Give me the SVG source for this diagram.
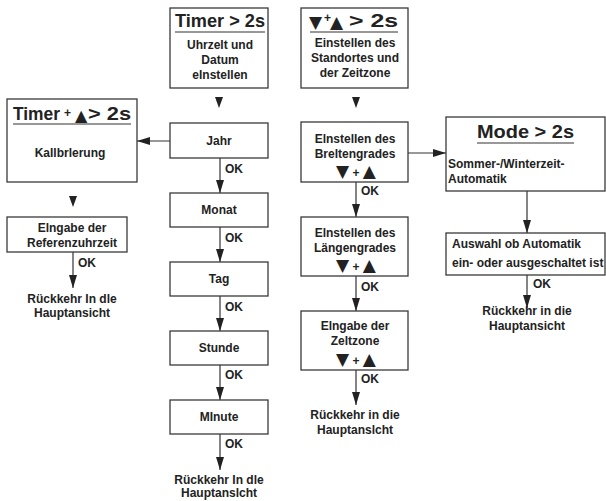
<svg xmlns="http://www.w3.org/2000/svg" width="606" height="501" viewBox="0 0 606 501">
<style>
  .box{fill:#fff;stroke:#3a3a3a;stroke-width:1.3}
  .t{font-family:"Liberation Sans",Arial,sans-serif;font-weight:bold;font-size:12px;fill:#222}
  .c{text-anchor:middle}
  .ttl{font-family:"Liberation Sans",Arial,sans-serif;font-weight:bold;font-size:19px;fill:#222}
  .sym{font-family:"DejaVu Sans",sans-serif;fill:#222}
  .ul{stroke:#333;stroke-width:1.2}
  .ln{stroke:#333;stroke-width:1.2;fill:none}
  .tri{fill:#222}
</style>
<defs>
  <marker id="ah" viewBox="0 0 13 8" refX="13" refY="4" markerWidth="13" markerHeight="8" orient="auto" markerUnits="userSpaceOnUse">
    <path d="M0,0 L13,4 L0,8 z" fill="#222"/>
  </marker>
</defs>

<g id="connectors">
  <path class="ln" d="M170,141 H137" marker-end="url(#ah)"/>
  <polygon class="tri" points="69,196 77,196 73,207"/>
  <path class="ln" d="M73,252 V288" marker-end="url(#ah)"/>
  <polygon class="tri" points="215,97 223,97 219,108"/>
  <path class="ln" d="M220,158 V193" marker-end="url(#ah)"/>
  <path class="ln" d="M220,227 V262" marker-end="url(#ah)"/>
  <path class="ln" d="M220,296 V331" marker-end="url(#ah)"/>
  <path class="ln" d="M220,365 V400" marker-end="url(#ah)"/>
  <path class="ln" d="M220,434 V470" marker-end="url(#ah)"/>
  <polygon class="tri" points="352,97 360,97 356,108"/>
  <path class="ln" d="M356,182 V217" marker-end="url(#ah)"/>
  <path class="ln" d="M356,276 V311" marker-end="url(#ah)"/>
  <path class="ln" d="M356,370 V405" marker-end="url(#ah)"/>
  <path class="ln" d="M408,153 H446" marker-end="url(#ah)"/>
  <path class="ln" d="M527,191 V233" marker-end="url(#ah)"/>
  <path class="ln" d="M527,275 V308" marker-end="url(#ah)"/>
  <text class="t" x="78" y="267">OK</text>
  <text class="t" x="225" y="173">OK</text>
  <text class="t" x="225" y="242">OK</text>
  <text class="t" x="225" y="311">OK</text>
  <text class="t" x="225" y="379">OK</text>
  <text class="t" x="225" y="448">OK</text>
  <text class="t" x="361" y="195">OK</text>
  <text class="t" x="361" y="291">OK</text>
  <text class="t" x="361" y="383">OK</text>
  <text class="t" x="533" y="288">OK</text>
</g>

<g id="kalibrierung">
  <rect class="box" x="7" y="99" width="130" height="83"/>
  <text class="ttl" x="13" y="120" textLength="47" lengthAdjust="spacingAndGlyphs">Timer</text>
  <text class="t" x="64" y="117" font-size="9">+</text>
  <text class="sym" x="75" y="121" font-size="16">▲</text>
  <text class="ttl" x="88" y="120" textLength="43" lengthAdjust="spacingAndGlyphs">&gt; 2s</text>
  <line class="ul" x1="13" y1="124" x2="131" y2="124"/>
  <text class="t c" x="70" y="157">Kallbrlerung</text>
</g>
<g id="referenz">
  <rect class="box" x="7" y="217" width="120" height="35"/>
  <text class="t c" x="72" y="232">Elngabe der</text>
  <text class="t c" x="72" y="247">Referenzuhrzeit</text>
</g>
<g id="end-left">
  <text class="t c" x="72" y="303">Rückkehr In dle</text>
  <text class="t c" x="72" y="317">Hauptansicht</text>
</g>

<g id="uhrzeit">
  <rect class="box" x="170" y="8" width="98" height="80"/>
  <text class="ttl" x="175" y="27" textLength="90" lengthAdjust="spacingAndGlyphs">Timer &gt; 2s</text>
  <line class="ul" x1="175" y1="32" x2="265" y2="32"/>
  <text class="t c" x="220" y="49">Uhrzelt und</text>
  <text class="t c" x="220" y="64">Datum</text>
  <text class="t c" x="220" y="79">elnstellen</text>
</g>
<g id="jahr"><rect class="box" x="170" y="123" width="98" height="35"/><text class="t c" x="219" y="145">Jahr</text></g>
<g id="monat"><rect class="box" x="170" y="193" width="98" height="34"/><text class="t c" x="219" y="214">Monat</text></g>
<g id="tag"><rect class="box" x="170" y="262" width="98" height="34"/><text class="t c" x="219" y="283">Tag</text></g>
<g id="stunde"><rect class="box" x="170" y="331" width="98" height="34"/><text class="t c" x="219" y="352">Stunde</text></g>
<g id="minute"><rect class="box" x="170" y="400" width="98" height="34"/><text class="t c" x="219" y="421">MInute</text></g>
<g id="end-center">
  <text class="t c" x="219" y="484">Rückkehr In dle</text>
  <text class="t c" x="219" y="497">Hauptanslcht</text>
</g>

<g id="standort">
  <rect class="box" x="301" y="8" width="107" height="80"/>
  <text class="sym" x="309" y="28" font-size="17">▼</text>
  <text class="t" x="324" y="22" font-size="9">+</text>
  <text class="sym" x="330" y="28" font-size="17">▲</text>
  <text class="ttl" x="349" y="27" textLength="49" lengthAdjust="spacingAndGlyphs">&gt; 2s</text>
  <line class="ul" x1="310" y1="32" x2="398" y2="32"/>
  <text class="t c" x="355" y="47">Einstellen des</text>
  <text class="t c" x="355" y="62">Standortes und</text>
  <text class="t c" x="355" y="77">der Zeitzone</text>
</g>
<g id="breite">
  <rect class="box" x="301" y="122" width="107" height="60"/>
  <text class="t c" x="355" y="143">Elnstellen des</text>
  <text class="t c" x="355" y="158">Breltengrades</text>
  <text class="sym c" x="356" y="177" font-size="17">▼<tspan class="t" font-size="10"> + </tspan>▲</text>
</g>
<g id="laenge">
  <rect class="box" x="301" y="217" width="107" height="59"/>
  <text class="t c" x="355" y="237">Elnstellen des</text>
  <text class="t c" x="355" y="252">Längengrades</text>
  <text class="sym c" x="356" y="271" font-size="17">▼<tspan class="t" font-size="10"> + </tspan>▲</text>
</g>
<g id="zeitzone">
  <rect class="box" x="301" y="311" width="107" height="59"/>
  <text class="t c" x="355" y="330">Elngabe der</text>
  <text class="t c" x="355" y="345">Zeltzone</text>
  <text class="sym c" x="356" y="365" font-size="17">▼<tspan class="t" font-size="10"> + </tspan>▲</text>
</g>
<g id="end-third">
  <text class="t c" x="355" y="419">Rückkehr in die</text>
  <text class="t c" x="355" y="434">Hauptanslcht</text>
</g>

<g id="mode">
  <rect class="box" x="446" y="117" width="159" height="74"/>
  <text class="ttl" x="477" y="138" textLength="97" lengthAdjust="spacingAndGlyphs">Mode &gt; 2s</text>
  <line class="ul" x1="477" y1="143" x2="574" y2="143"/>
  <text class="t" x="448" y="168">Sommer-/Winterzeit-</text>
  <text class="t" x="448" y="183">Automatik</text>
</g>
<g id="auswahl">
  <rect class="box" x="446" y="233" width="159" height="42"/>
  <text class="t" x="452" y="248">Auswahl ob Automatik</text>
  <text class="t" x="452" y="267">ein- oder ausgeschaltet ist</text>
</g>
<g id="end-right">
  <text class="t c" x="527" y="315">Rückkehr in die</text>
  <text class="t c" x="527" y="330">Hauptansicht</text>
</g>
</svg>
